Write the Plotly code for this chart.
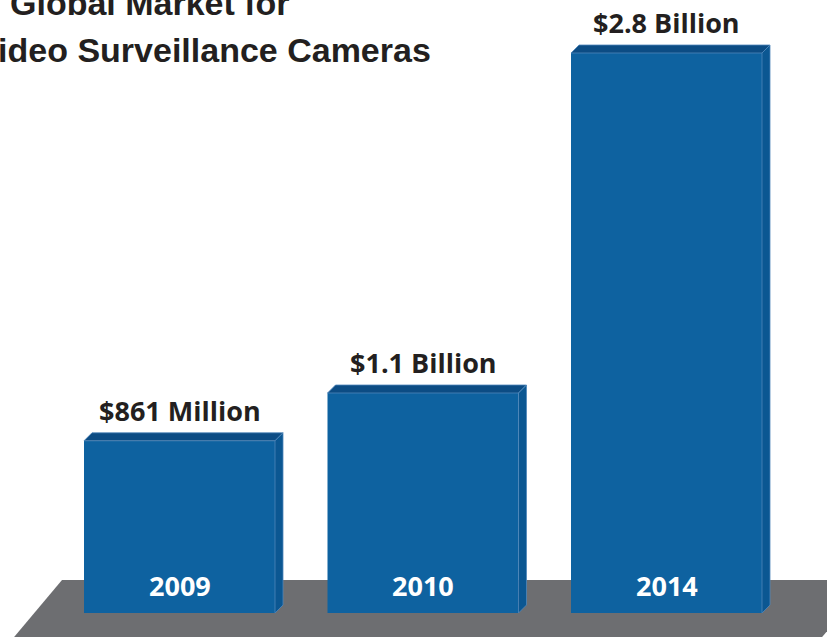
import plotly.graph_objects as go

# ---- data ----
years = ["2009", "2010", "2014"]
values_musd = [861, 1100, 2800]          # market size, USD millions
value_labels = ["$861 Million", "$1.1 Billion", "$2.8 Billion"]
title_lines = ["Global Market for", "Video Surveillance Cameras"]

# ---- styling ----
W, H = 827, 637
FRONT = "#0e62a0"
TOP = "#0c4c84"
SIDE = "#0b5792"
EDGE = "#4f86ba"
FLOOR = "#6d6e71"
TEXT = "#231f20"

px_per_unit_x = 243.5
px_per_musd = 0.2
x_min = -179.5 / px_per_unit_x
x_max = x_min + W / px_per_unit_x
y_min = -24 / px_per_musd
y_max = y_min + H / px_per_musd
bar_w = 191 / px_per_unit_x
dx = 8 / px_per_unit_x
dy = 8 / px_per_musd

xs = list(range(len(years)))

fig = go.Figure()
fig.add_trace(go.Bar(
    x=xs, y=values_musd, width=bar_w,
    marker=dict(color=FRONT, line=dict(width=0)),
    hoverinfo="skip", showlegend=False,
))

shapes = []
# floor (decorative, in paper coords)
def px(xp): return xp / W
def py(yp): return 1 - yp / H
floor = [(62, 580), (870, 580), (786, 680), (-22, 680)]
path = "M " + " L ".join(f"{px(a)},{py(b)}" for a, b in floor) + " Z"
shapes.append(dict(type="path", path=path, xref="paper", yref="paper",
                   fillcolor=FLOOR, line=dict(width=0), layer="below"))

for x, v in zip(xs, values_musd):
    x0, x1 = x - bar_w / 2, x + bar_w / 2
    top = f"M {x0},{v} L {x0+dx},{v+dy} L {x1+dx},{v+dy} L {x1},{v} Z"
    side = f"M {x1},{v} L {x1+dx},{v+dy} L {x1+dx},{dy} L {x1},0 Z"
    shapes.append(dict(type="path", path=top, xref="x", yref="y",
                       fillcolor=TOP, line=dict(color=EDGE, width=0.8), layer="above"))
    shapes.append(dict(type="path", path=side, xref="x", yref="y",
                       fillcolor=SIDE, line=dict(color=EDGE, width=0.8), layer="above"))

annotations = []
for x, v, lab, yr in zip(xs, values_musd, value_labels, years):
    annotations.append(dict(x=x, y=v, xref="x", yref="y", text=lab, showarrow=False,
                            xanchor="center", yanchor="bottom", yshift=10,
                            font=dict(family="Open Sans", size=27, color=TEXT, weight="bold")))
    annotations.append(dict(x=x, y=0, xref="x", yref="y", text=yr, showarrow=False,
                            xanchor="center", yanchor="bottom", yshift=7,
                            font=dict(family="Open Sans", size=27, color="white", weight="bold")))

annotations.append(dict(x=px(8), y=py(24), xref="paper", yref="paper", text=title_lines[0],
                        showarrow=False, xanchor="left", yanchor="bottom",
                        font=dict(family="Liberation Sans", size=34, color=TEXT, weight="bold")))
annotations.append(dict(x=px(-26), y=py(71), xref="paper", yref="paper", text=title_lines[1],
                        showarrow=False, xanchor="left", yanchor="bottom",
                        font=dict(family="Liberation Sans", size=34, color=TEXT, weight="bold")))

fig.update_layout(
    width=W, height=H, margin=dict(l=0, r=0, t=0, b=0),
    paper_bgcolor="white", plot_bgcolor="rgba(0,0,0,0)",
    xaxis=dict(range=[x_min, x_max], visible=False, fixedrange=True),
    yaxis=dict(range=[y_min, y_max], visible=False, fixedrange=True),
    shapes=shapes, annotations=annotations, showlegend=False,
)

fig.write_html("out.html", config={"displayModeBar": False})
